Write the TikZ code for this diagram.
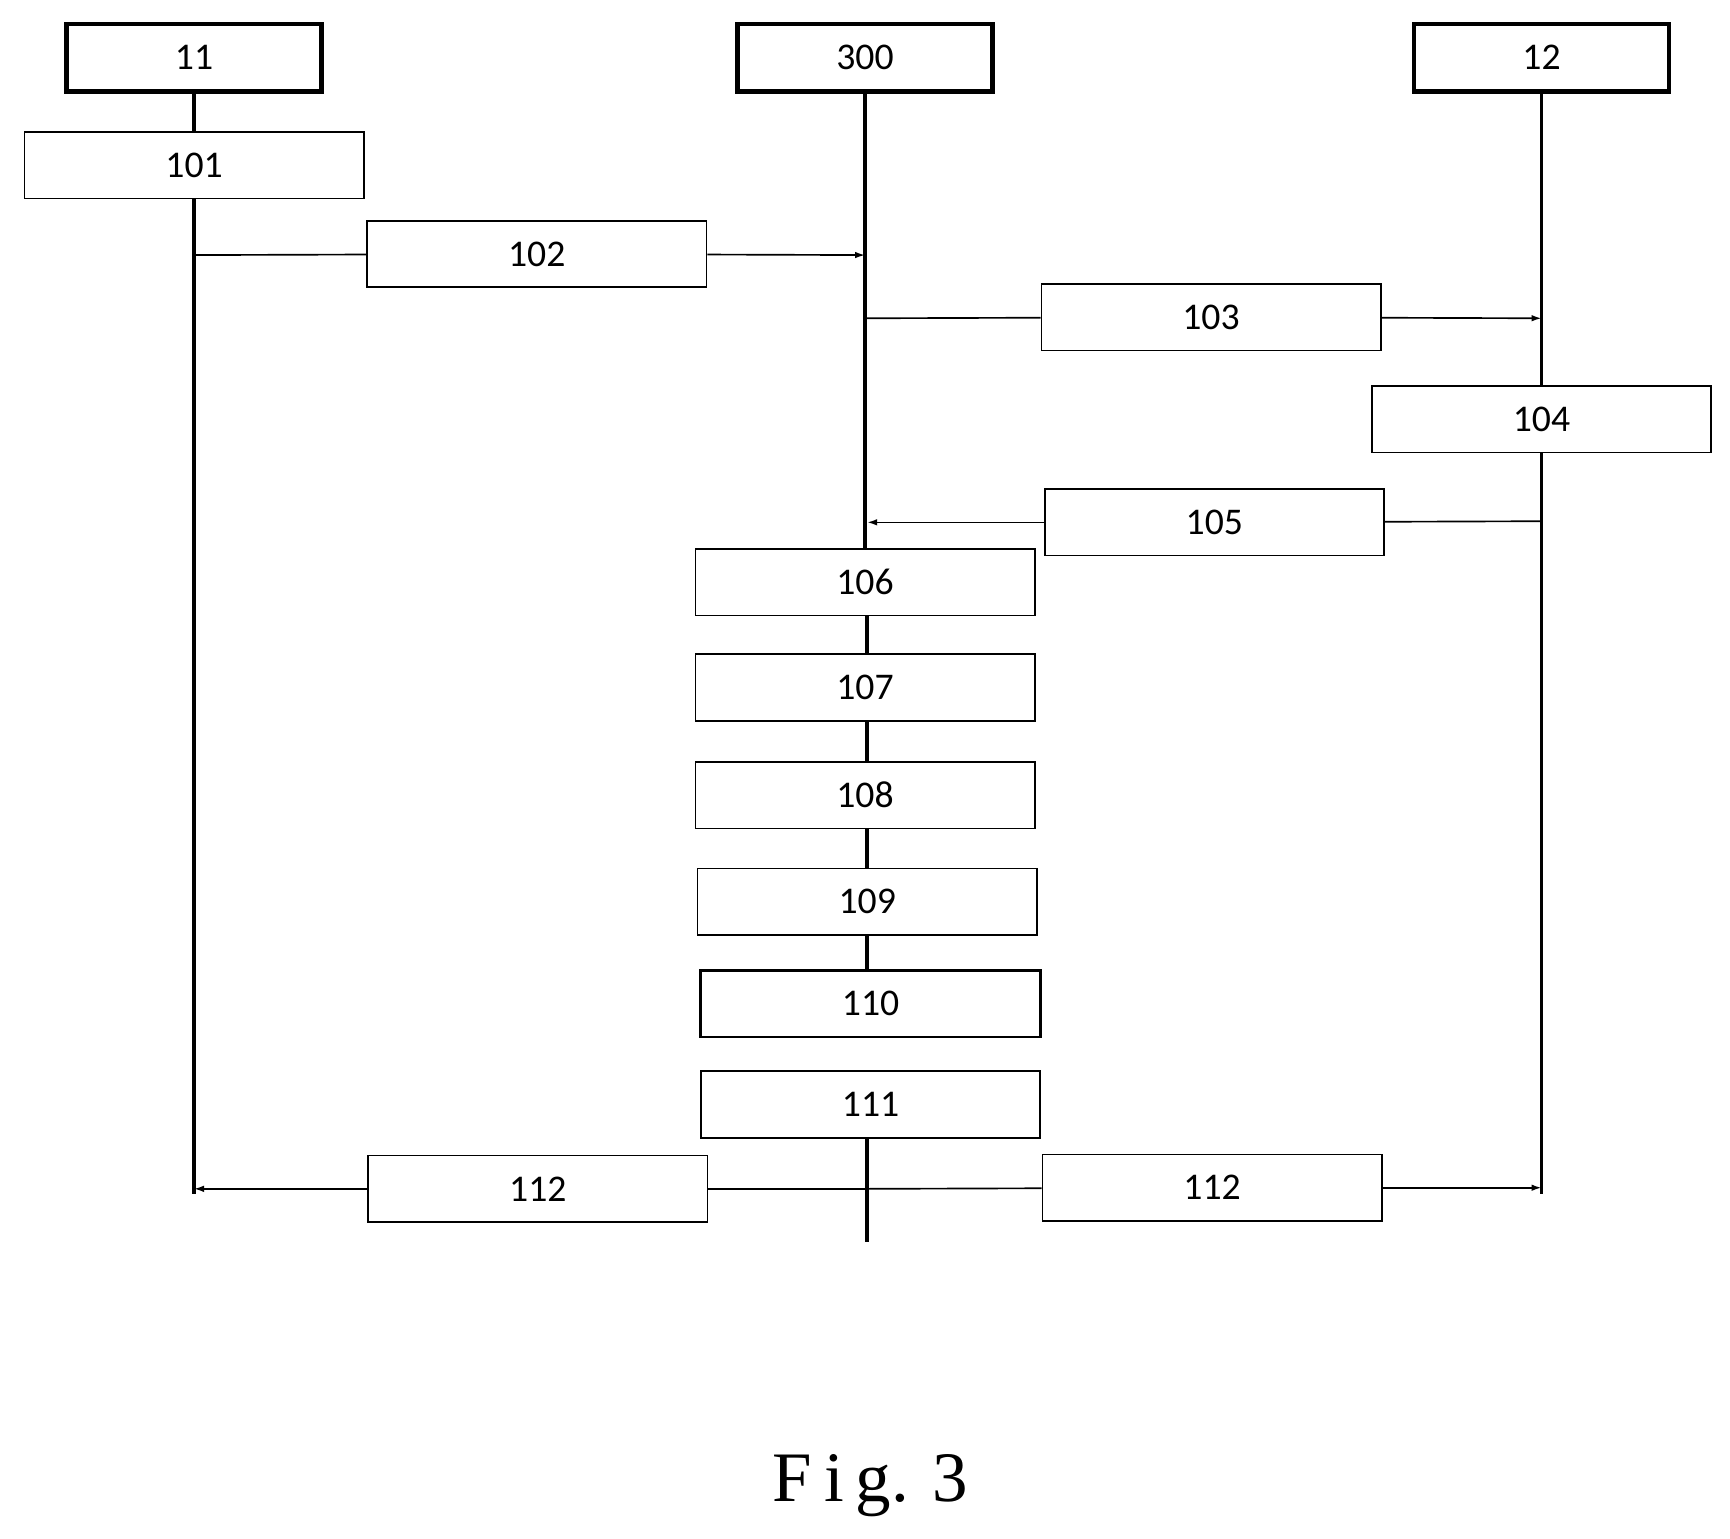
\documentclass[tikz,border=0pt]{standalone}
\usepackage{fontspec}
\setmainfont{Carlito}
\newfontfamily\figfont{Liberation Serif}
\usetikzlibrary{arrows.meta}
\begin{document}
\begin{tikzpicture}[x=1pt,y=1pt,yscale=-1,xscale=1,
	stepbox/.style={draw,line width=1.5pt,minimum width=306pt,minimum height=60pt,inner sep=0pt,font=\fontsize{34}{38}\selectfont},
	headbox/.style={stepbox,line width=4pt,minimum width=230pt,minimum height=61pt},
	life/.style={line width=3.5pt},
	msg/.style={line width=1.5pt},
	arr/.style={msg,-{Latex[length=9pt,width=6pt]}}]
	\useasboundingbox (0,0) rectangle (1560,1387);

	% heads
	\node[headbox] (n11) at (175,52) {11};
	\node[headbox] (n300) at (780,52) {300};
	\node[headbox] (n12) at (1390,52) {12};

	% steps
	\node[stepbox] (n101) at (175,149) {101};
	\node[stepbox] (n102) at (484,229) {102};
	\node[stepbox] (n103) at (1092,286) {103};
	\node[stepbox] (n104) at (1390,378) {104};
	\node[stepbox] (n105) at (1095,471) {105};
	\node[stepbox] (n106) at (780,525) {106};
	\node[stepbox] (n107) at (780,620) {107};
	\node[stepbox] (n108) at (780,717) {108};
	\node[stepbox] (n109) at (782,813) {109};
	\node[stepbox,line width=2.5pt] (n110) at (785,905) {110};
	\node[stepbox] (n111) at (785,996) {111};
	\node[stepbox] (n112a) at (485,1072) {112};
	\node[stepbox] (n112b) at (1093,1071) {112};

	% lifeline points
	\coordinate (e11) at (175,1077);
	\coordinate (e12) at (1390,1077);
	\coordinate (e300) at (782,1120);
	\coordinate (a102) at (175,230);
	\coordinate (b102) at (780,230);
	\coordinate (a103) at (780,287);
	\coordinate (b103) at (1390,287);
	\coordinate (a105) at (1390,470);
	\coordinate (b105) at (782,471);
	\coordinate (b112a) at (175,1072);
	\coordinate (b112b) at (1390,1071);
	\coordinate (m111) at (782,1072);

	% lifelines
	\draw[life] (n11) -- (n101);
	\draw[life] (n101) -- (e11);
	\draw[life] (n300.south) -- (n300.south |- n106.north);
	\draw[life] (n106.south -| e300) -- (n107.north -| e300);
	\draw[life] (n107.south -| e300) -- (n108.north -| e300);
	\draw[life] (n108.south -| e300) -- (n109.north -| e300);
	\draw[life] (n109.south -| e300) -- (n110.north -| e300);
	\draw[life] (n111.south -| e300) -- (e300);
	\draw[life] (n12) -- (n104);
	\draw[life] (n104) -- (e12);

	% messages
	\draw[msg] (a102) -- (n102);
	\draw[arr] (n102) -- (b102);
	\draw[msg] (a103) -- (n103);
	\draw[arr] (n103) -- (b103);
	\draw[msg] (a105) -- (n105);
	\draw[arr] (n105) -- (b105);
	\draw[msg] (m111) -- (n112a);
	\draw[arr] (n112a) -- (b112a);
	\draw[msg] (m111) -- (n112b);
	\draw[arr] (n112b) -- (b112b);

	% caption
	\node[font=\figfont\fontsize{64}{70}\selectfont] (cap) at (785,1340) {F\,i\,g.\,\,3};
\end{tikzpicture}
\end{document}
